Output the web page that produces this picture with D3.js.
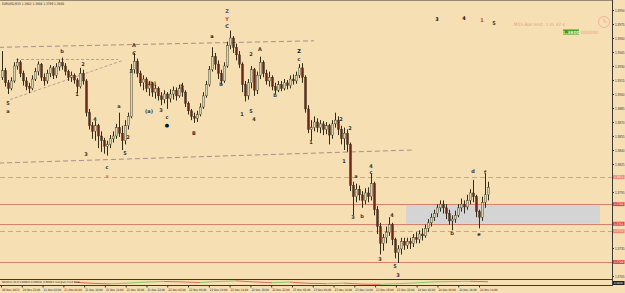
<!DOCTYPE html>
<html>
<head>
<meta charset="utf-8">
<script src="https://cdn.jsdelivr.net/npm/d3@7"></script>
<style>
  body { margin: 0; background: #f6dfb3; }
  svg { display: block; font-family: "DejaVu Sans", sans-serif; }
</style>
</head>
<body>
<svg width="625" height="293"></svg>
<script>
//Candles: [open, high, low, close], one per bar (M15)
const candles = [
  [1.3918,1.3946,1.3915,1.3925],[1.3925,1.3928,1.3908,1.3912],[1.3912,1.3915,1.3900,1.3906],[1.3906,1.3918,1.3904,1.3914],
  [1.3914,1.3934,1.3912,1.3930],[1.3930,1.3938,1.3926,1.3934],[1.3934,1.3936,1.3918,1.3922],[1.3922,1.3925,1.3909,1.3914],
  [1.3914,1.3918,1.3904,1.3908],[1.3908,1.3912,1.3901,1.3906],[1.3906,1.3920,1.3904,1.3916],[1.3916,1.3928,1.3914,1.3924],
  [1.3924,1.3935,1.3920,1.3932],[1.3932,1.3933,1.3914,1.3918],[1.3918,1.3922,1.3909,1.3914],[1.3914,1.3926,1.3911,1.3922],
  [1.3922,1.3931,1.3918,1.3928],[1.3928,1.3930,1.3916,1.3920],[1.3920,1.3933,1.3917,1.3929],[1.3929,1.3937,1.3925,1.3934],
  [1.3934,1.3939,1.3926,1.3930],[1.3930,1.3933,1.3920,1.3924],[1.3924,1.3926,1.3914,1.3918],[1.3918,1.3924,1.3913,1.3920],
  [1.3920,1.3922,1.3911,1.3915],[1.3915,1.3917,1.3901,1.3908],[1.3908,1.3928,1.3906,1.3922],[1.3922,1.3926,1.3910,1.3914],
  [1.3914,1.3916,1.3876,1.3880],[1.3880,1.3884,1.3862,1.3866],[1.3866,1.3870,1.3852,1.3860],[1.3860,1.3871,1.3850,1.3866],
  [1.3866,1.3868,1.3842,1.3855],[1.3855,1.3860,1.3838,1.3850],[1.3850,1.3853,1.3836,1.3844],[1.3844,1.3850,1.3834,1.3846],
  [1.3846,1.3856,1.3842,1.3852],[1.3852,1.3860,1.3848,1.3855],[1.3855,1.3868,1.3852,1.3864],[1.3864,1.3880,1.3854,1.3858],
  [1.3858,1.3866,1.3840,1.3850],[1.3850,1.3872,1.3846,1.3866],[1.3866,1.3880,1.3862,1.3876],[1.3876,1.3932,1.3874,1.3926],
  [1.3926,1.3944,1.3922,1.3935],[1.3935,1.3938,1.3918,1.3922],[1.3922,1.3925,1.3908,1.3912],[1.3912,1.3920,1.3904,1.3916],
  [1.3916,1.3918,1.3902,1.3906],[1.3906,1.3914,1.3898,1.3910],[1.3910,1.3913,1.3897,1.3902],[1.3902,1.3910,1.3895,1.3906],
  [1.3906,1.3908,1.3893,1.3898],[1.3898,1.3902,1.3888,1.3894],[1.3894,1.3904,1.3890,1.3900],[1.3900,1.3902,1.3884,1.3895],
  [1.3895,1.3905,1.3891,1.3900],[1.3900,1.3908,1.3894,1.3904],[1.3904,1.3907,1.3893,1.3898],[1.3898,1.3910,1.3896,1.3906],
  [1.3906,1.3912,1.3897,1.3902],[1.3902,1.3904,1.3886,1.3890],[1.3890,1.3892,1.3878,1.3882],[1.3882,1.3884,1.3872,1.3876],
  [1.3876,1.3880,1.3869,1.3874],[1.3874,1.3882,1.3870,1.3878],[1.3878,1.3890,1.3876,1.3886],[1.3886,1.3902,1.3884,1.3898],
  [1.3898,1.3914,1.3896,1.3910],[1.3910,1.3930,1.3908,1.3926],[1.3926,1.3950,1.3924,1.3940],[1.3940,1.3944,1.3926,1.3932],
  [1.3932,1.3936,1.3916,1.3922],[1.3922,1.3926,1.3910,1.3914],[1.3914,1.3934,1.3912,1.3930],[1.3930,1.3956,1.3928,1.3952],
  [1.3952,1.3968,1.3948,1.3960],[1.3960,1.3962,1.3944,1.3950],[1.3950,1.3954,1.3936,1.3942],[1.3942,1.3946,1.3928,1.3932],
  [1.3932,1.3934,1.3902,1.3910],[1.3910,1.3914,1.3892,1.3898],[1.3898,1.3916,1.3894,1.3912],[1.3912,1.3930,1.3906,1.3926],
  [1.3926,1.3928,1.3898,1.3904],[1.3904,1.3924,1.3900,1.3920],[1.3920,1.3940,1.3916,1.3934],[1.3934,1.3936,1.3918,1.3922],
  [1.3922,1.3926,1.3910,1.3914],[1.3914,1.3924,1.3908,1.3918],[1.3918,1.3920,1.3904,1.3908],[1.3908,1.3912,1.3900,1.3904],
  [1.3904,1.3914,1.3902,1.3910],[1.3910,1.3914,1.3903,1.3906],[1.3906,1.3916,1.3904,1.3912],[1.3912,1.3915,1.3905,1.3909],
  [1.3909,1.3920,1.3906,1.3916],[1.3916,1.3921,1.3910,1.3914],[1.3914,1.3924,1.3911,1.3920],[1.3920,1.3932,1.3917,1.3928],
  [1.3928,1.3933,1.3912,1.3918],[1.3918,1.3920,1.3880,1.3884],[1.3884,1.3888,1.3858,1.3862],[1.3862,1.3872,1.3850,1.3864],
  [1.3864,1.3876,1.3860,1.3870],[1.3870,1.3874,1.3859,1.3864],[1.3864,1.3872,1.3858,1.3868],[1.3868,1.3871,1.3856,1.3862],
  [1.3862,1.3870,1.3857,1.3866],[1.3866,1.3868,1.3846,1.3856],[1.3856,1.3872,1.3852,1.3868],[1.3868,1.3880,1.3864,1.3872],
  [1.3872,1.3876,1.3856,1.3862],[1.3862,1.3866,1.3846,1.3852],[1.3852,1.3864,1.3840,1.3858],[1.3858,1.3862,1.3838,1.3846],
  [1.3846,1.3848,1.3796,1.3802],[1.3802,1.3806,1.3770,1.3790],[1.3790,1.3804,1.3784,1.3798],[1.3798,1.3802,1.3786,1.3792],
  [1.3792,1.3796,1.3778,1.3786],[1.3786,1.3799,1.3782,1.3794],[1.3794,1.3800,1.3784,1.3790],[1.3790,1.3815,1.3786,1.3804],
  [1.3804,1.3806,1.3770,1.3776],[1.3776,1.3780,1.3750,1.3758],[1.3758,1.3762,1.3728,1.3740],[1.3740,1.3750,1.3732,1.3746],
  [1.3746,1.3758,1.3740,1.3752],[1.3752,1.3768,1.3748,1.3760],[1.3760,1.3762,1.3738,1.3744],[1.3744,1.3746,1.3724,1.3730],
  [1.3730,1.3738,1.3719,1.3734],[1.3734,1.3746,1.3728,1.3742],[1.3742,1.3746,1.3733,1.3738],[1.3738,1.3746,1.3734,1.3742],
  [1.3742,1.3746,1.3734,1.3740],[1.3740,1.3750,1.3736,1.3746],[1.3746,1.3752,1.3740,1.3744],[1.3744,1.3754,1.3740,1.3750],
  [1.3750,1.3756,1.3743,1.3748],[1.3748,1.3760,1.3746,1.3756],[1.3756,1.3766,1.3752,1.3762],[1.3762,1.3772,1.3758,1.3768],
  [1.3768,1.3776,1.3764,1.3772],[1.3772,1.3782,1.3768,1.3778],[1.3778,1.3786,1.3774,1.3782],[1.3782,1.3786,1.3772,1.3778],
  [1.3778,1.3782,1.3766,1.3772],[1.3772,1.3776,1.3760,1.3764],[1.3764,1.3770,1.3754,1.3766],[1.3766,1.3775,1.3762,1.3770],
  [1.3770,1.3782,1.3768,1.3778],[1.3778,1.3788,1.3774,1.3782],[1.3782,1.3786,1.3772,1.3779],[1.3779,1.3792,1.3776,1.3786],
  [1.3786,1.3798,1.3782,1.3794],[1.3794,1.3808,1.3784,1.3790],[1.3790,1.3792,1.3768,1.3774],[1.3774,1.3776,1.3756,1.3768],
  [1.3768,1.3790,1.3764,1.3784],[1.3784,1.3815,1.3778,1.3792],[1.3792,1.3806,1.3786,1.3800]
];

//Right price scale ticks
const priceTicks = [1.3990, 1.3975, 1.3960, 1.3945, 1.3930, 1.3915, 1.3900, 1.3885, 1.3870,
  1.3855, 1.3840, 1.3825, 1.3795, 1.3765, 1.3750, 1.3735, 1.3705];

//Time axis labels (every 4 hours)
const timeLabels = ["20 Nov 2013", "20 Nov 22:00", "21 Nov 02:00", "21 Nov 06:00", "21 Nov 10:00",
  "21 Nov 14:00", "21 Nov 18:00", "21 Nov 22:00", "22 Nov 02:00", "22 Nov 06:00", "22 Nov 10:00",
  "22 Nov 14:00", "22 Nov 18:00", "22 Nov 22:00", "23 Nov 02:00", "23 Nov 06:00", "23 Nov 10:00",
  "23 Nov 14:00", "23 Nov 18:00", "23 Nov 22:00", "24 Nov 02:00", "24 Nov 06:00", "24 Nov 10:00",
  "24 Nov 14:00"];

//Horizontal levels
const solidLevels = [1.3782, 1.3761, 1.3720];
const dashedLevels = [1.3811, 1.3753];

//Trend lines: [bar1, price1, bar2, price2]
const trendLines = [
  [-1, 1.3950, 104, 1.3957],
  [-1, 1.3826, 137, 1.3840]
];
const triangleLines = [
  [4.7, 1.3937, 38.7, 1.3937],
  [2.7, 1.3894, 40.3, 1.3936]
];

//Supply/demand zone: [bar1, priceTop, bar2, priceBottom]
const zone = [134.7, 1.3782, 199.3, 1.3761];

//Wave count labels: [bar, price, text, colour]
const waveLabels = [
  [2, 1.3890, "5", "#333"], [2, 1.3881, "a", "#333"], [20, 1.3945, "b", "#333"],
  [27, 1.3931, "2", "#333"], [25, 1.3899, "1", "#333"], [31, 1.3873, "4", "#333"],
  [28, 1.3835, "3", "#333"], [35, 1.3821, "c", "#333"], [35, 1.3811, "x", "#e07050"],
  [39, 1.3886, "a", "#333"], [41, 1.3836, "5", "#333"], [42, 1.3853, "2", "#333"],
  [44, 1.3952, "A", "#333"], [44, 1.3943, "C", "#333"], [43, 1.3924, "3", "#333"],
  [49, 1.3881, "(a)", "#333"], [50, 1.3911, "(b)", "#333"], [53, 1.3882, "3", "#333"],
  [55, 1.3875, "c", "#333"], [55, 1.3866, "\u25cf", "#111"], [60, 1.3908, "b", "#333"],
  [64, 1.3858, "B", "#333"], [70, 1.3961, "a", "#111"], [73, 1.3910, "b", "#333"],
  [75, 1.3988, "Z", "#505090"], [75, 1.3980, "Y", "#d04040"], [75, 1.3972, "C", "#333"],
  [83, 1.3942, "2", "#333"], [86, 1.3948, "A", "#333"], [80, 1.3878, "1", "#333"],
  [83, 1.3881, "5", "#333"], [84, 1.3872, "4", "#333"], [91, 1.3898, "b", "#333"],
  [99, 1.3945, "Z", "#111"], [99, 1.3937, "c", "#333"], [103, 1.3848, "1", "#333"],
  [113, 1.3873, "2", "#2a2a50"], [116, 1.3863, "2", "#333"], [114, 1.3827, "1", "#333"],
  [118, 1.3811, "a", "#333"], [123, 1.3822, "4", "#333"], [123, 1.3816, "c", "#333"],
  [117, 1.3768, "3", "#333"], [120, 1.3769, "b", "#333"], [126, 1.3722, "3", "#333"],
  [130, 1.3770, "4", "#333"], [131, 1.3715, "5", "#333"], [132, 1.3705, "3", "#2a2a50"],
  [150, 1.3750, "b", "#333"], [159, 1.3749, "e", "#333"], [157, 1.3817, "d", "#333"],
  [161, 1.3816, "f", "#333"], [145, 1.3980, "3", "#111"], [154, 1.3981, "4", "#111"],
  [160, 1.3979, "1", "#d04040"], [164, 1.3975, "5", "#333"]
];

//Indicator sub-window: [bar, value]
const indicatorVals = [
  [24, 0.2], [30, -0.4], [36, -0.7], [42, -0.3], [48, 0.2], [54, 0.5], [60, 0.3], [66, 0.0],
  [72, 0.5], [78, 0.8], [84, 0.3], [90, -0.1], [96, 0.2], [102, -0.4], [108, -0.6], [114, -0.3],
  [120, -0.8], [126, -0.9], [132, -0.6], [138, -0.2], [144, 0.3], [150, 0.5], [156, 0.6], [162, 0.4]
];

const svg = d3.select("svg");
const chartRight = 612;
const chartBottom = 279;

//Scales
const x = d3.scaleLinear().domain([0, candles.length - 1]).range([2, 488]);
const y = d3.scaleLinear().domain([1.3705, 1.3990]).range([276, 10]);

//Clip for the main window
svg.append("clipPath").attr("id", "main")
    .append("rect").attr("x", 0).attr("y", 0).attr("width", chartRight).attr("height", chartBottom);

const g = svg.append("g").attr("clip-path", "url(#main)");

//Zone rectangle
g.append("rect")
    .attr("x", x(zone[0]))
    .attr("y", y(zone[1]))
    .attr("width", x(zone[2]) - x(zone[0]))
    .attr("height", y(zone[3]) - y(zone[1]))
    .attr("fill", "#d4d4d4");

//Horizontal levels
g.selectAll(".solid")
    .data(solidLevels)
    .enter()
    .append("line")
    .attr("x1", 0).attr("x2", chartRight)
    .attr("y1", d => Math.round(y(d)) + 0.5).attr("y2", d => Math.round(y(d)) + 0.5)
    .attr("stroke", "#d9806c")
    .attr("stroke-width", 1);

g.selectAll(".dashed")
    .data(dashedLevels)
    .enter()
    .append("line")
    .attr("x1", 0).attr("x2", chartRight)
    .attr("y1", d => Math.round(y(d)) + 0.5).attr("y2", d => Math.round(y(d)) + 0.5)
    .attr("stroke", "#e49a84")
    .attr("stroke-width", 1)
    .attr("stroke-dasharray", "5,3");

//Trend lines
g.selectAll(".trend")
    .data(trendLines)
    .enter()
    .append("line")
    .attr("x1", d => x(d[0])).attr("y1", d => y(d[1]))
    .attr("x2", d => x(d[2])).attr("y2", d => y(d[3]))
    .attr("stroke", "#b08a8a")
    .attr("stroke-width", 1)
    .attr("stroke-dasharray", "5,3");

g.selectAll(".tri")
    .data(triangleLines)
    .enter()
    .append("line")
    .attr("x1", d => x(d[0])).attr("y1", d => y(d[1]))
    .attr("x2", d => x(d[2])).attr("y2", d => y(d[3]))
    .attr("stroke", "#b08a8a")
    .attr("stroke-width", 0.8)
    .attr("stroke-dasharray", "3,2");

//Candles
const bars = g.selectAll(".bar")
    .data(candles)
    .enter()
    .append("g");

bars.append("line")
    .attr("x1", (d, i) => Math.round(x(i)) + 0.5)
    .attr("x2", (d, i) => Math.round(x(i)) + 0.5)
    .attr("y1", d => y(d[1]))
    .attr("y2", d => y(d[2]))
    .attr("stroke", "#2f2d1a")
    .attr("stroke-width", 1);

bars.append("rect")
    .attr("x", (d, i) => Math.round(x(i)) - 0.5)
    .attr("y", d => y(Math.max(d[0], d[3])))
    .attr("width", 2)
    .attr("height", d => Math.max(1, Math.abs(y(d[0]) - y(d[3]))))
    .attr("fill", d => d[3] >= d[0] ? "#d8d4b0" : "#6e2618")
    .attr("stroke", "#2f2d1a")
    .attr("stroke-width", 0.4);

//Wave labels
g.selectAll(".wave")
    .data(waveLabels)
    .enter()
    .append("text")
    .attr("x", d => x(d[0]))
    .attr("y", d => y(d[1]))
    .attr("text-anchor", "middle")
    .attr("dominant-baseline", "middle")
    .attr("font-size", "5px")
    .attr("font-weight", "bold")
    .attr("fill", d => d[3])
    .text(d => d[2]);

//Window frame
svg.append("line")
    .attr("x1", 0).attr("x2", chartRight).attr("y1", 0.5).attr("y2", 0.5)
    .attr("stroke", "#9a8a70");
svg.append("line")
    .attr("x1", chartRight + 0.5).attr("x2", chartRight + 0.5).attr("y1", 0).attr("y2", 286)
    .attr("stroke", "#3a3a3a");
svg.append("line")
    .attr("x1", 0).attr("x2", chartRight).attr("y1", chartBottom + 0.5).attr("y2", chartBottom + 0.5)
    .attr("stroke", "#3a3a3a");
svg.append("line")
    .attr("x1", 0).attr("x2", chartRight).attr("y1", 285.5).attr("y2", 285.5)
    .attr("stroke", "#3a3a3a");

//Level tags on the axis (skip ticks they would cover)
const levelTags = solidLevels.concat(dashedLevels);
const freeTicks = priceTicks.filter(t => levelTags.every(l => Math.abs(y(t) - y(l)) > 4.5));

//Right price axis
const yAxis = svg.append("g")
    .attr("transform", `translate(${chartRight}, 0)`)
    .call(d3.axisRight(y).tickValues(freeTicks).tickSize(2).tickFormat(d3.format(".4f")));
yAxis.select(".domain").remove();
yAxis.selectAll("text")
    .attr("font-size", "3.4px")
    .attr("fill", "#333")
    .attr("x", 3)
    .attr("textLength", 9.5)
    .attr("lengthAdjust", "spacingAndGlyphs");
yAxis.selectAll("line").attr("stroke", "#333");

svg.selectAll(".tag")
    .data(levelTags)
    .enter()
    .append("rect")
    .attr("x", chartRight + 1)
    .attr("y", d => y(d) - 2)
    .attr("width", 11.5)
    .attr("height", 4)
    .attr("fill", (d, i) => i < solidLevels.length ? "#e04a3a" : "#ec8a72");
svg.selectAll(".tagText")
    .data(levelTags)
    .enter()
    .append("text")
    .attr("x", chartRight + 2)
    .attr("y", d => y(d) + 1.2)
    .attr("font-size", "3.2px")
    .attr("fill", "#fff")
    .attr("textLength", 9.5)
    .attr("lengthAdjust", "spacingAndGlyphs")
    .text(d => d3.format(".4f")(d));

//Indicator sub-window
const yInd = d3.scaleLinear().domain([-1, 1]).range([284.5, 280.5]);
const indSegs = d3.pairs(indicatorVals);
svg.selectAll(".ind")
    .data(indSegs)
    .enter()
    .append("line")
    .attr("x1", d => x(d[0][0])).attr("y1", d => yInd(d[0][1]))
    .attr("x2", d => x(d[1][0])).attr("y2", d => yInd(d[1][1]))
    .attr("stroke", d => d[1][1] >= d[0][1] ? "#6cc04a" : "#e04a3a")
    .attr("stroke-width", 0.8);

svg.append("text")
    .attr("x", 2).attr("y", 282.6)
    .attr("font-size", "2.6px")
    .attr("fill", "#222")
    .attr("textLength", 78)
    .attr("lengthAdjust", "spacingAndGlyphs")
    .text("MACD(12,26,9) 0.000021 0.000034 -0.000013 Histogram trend mode");

svg.append("rect")
    .attr("x", chartRight + 1).attr("y", 281).attr("width", 11.5).attr("height", 4)
    .attr("fill", "#222");
svg.append("text")
    .attr("x", chartRight + 2).attr("y", 284)
    .attr("font-size", "2.8px")
    .attr("fill", "#fff")
    .attr("textLength", 9)
    .attr("lengthAdjust", "spacingAndGlyphs")
    .text("0.0000");

//Time axis
const xTime = d3.scalePoint().domain(timeLabels).range([1, 479]);
svg.selectAll(".time")
    .data(timeLabels)
    .enter()
    .append("text")
    .attr("x", d => xTime(d) + 1)
    .attr("y", 290.5)
    .attr("font-size", "3.2px")
    .attr("fill", "#222")
    .attr("textLength", 17.5)
    .attr("lengthAdjust", "spacingAndGlyphs")
    .text(d => d);
svg.selectAll(".timeTick")
    .data(timeLabels)
    .enter()
    .append("line")
    .attr("x1", d => xTime(d) + 0.5).attr("x2", d => xTime(d) + 0.5)
    .attr("y1", 285.5).attr("y2", 287.5)
    .attr("stroke", "#333");

//Chart title
svg.append("text")
    .attr("x", 2).attr("y", 5)
    .attr("font-size", "3.4px")
    .attr("fill", "#222")
    .attr("textLength", 62)
    .attr("lengthAdjust", "spacingAndGlyphs")
    .text("EURUSD,M15  1.3802 1.3804 1.3799 1.3800");

//Bar timer and price info
svg.append("text")
    .attr("x", 565).attr("y", 25.5)
    .attr("text-anchor", "end")
    .attr("font-size", "4.5px")
    .attr("fill", "#f09a80")
    .text("M15 Bar end: 1 m 32 s");

const clock = svg.append("g").attr("transform", "translate(604, 22)");
clock.append("circle").attr("r", 5.5).attr("fill", "none").attr("stroke", "#f0a890").attr("stroke-width", 0.8);
clock.append("line").attr("x1", 0).attr("y1", 0).attr("x2", 0).attr("y2", -3.5).attr("stroke", "#f0a890").attr("stroke-width", 0.8);
clock.append("line").attr("x1", 0).attr("y1", 0).attr("x2", 2.5).attr("y2", 0).attr("stroke", "#f0a890").attr("stroke-width", 0.8);

svg.append("rect")
    .attr("x", 563).attr("y", 29.5).attr("width", 16).attr("height", 5)
    .attr("fill", "#3f9a22");
svg.append("text")
    .attr("x", 571).attr("y", 33.6)
    .attr("text-anchor", "middle")
    .attr("font-size", "4.5px")
    .attr("font-weight", "bold")
    .attr("fill", "#e8f5c0")
    .text("1.3800");
svg.append("text")
    .attr("x", 581).attr("y", 33.6)
    .attr("font-size", "4.5px")
    .attr("fill", "#f09a80")
    .text("000000");
</script>
</body>
</html>
